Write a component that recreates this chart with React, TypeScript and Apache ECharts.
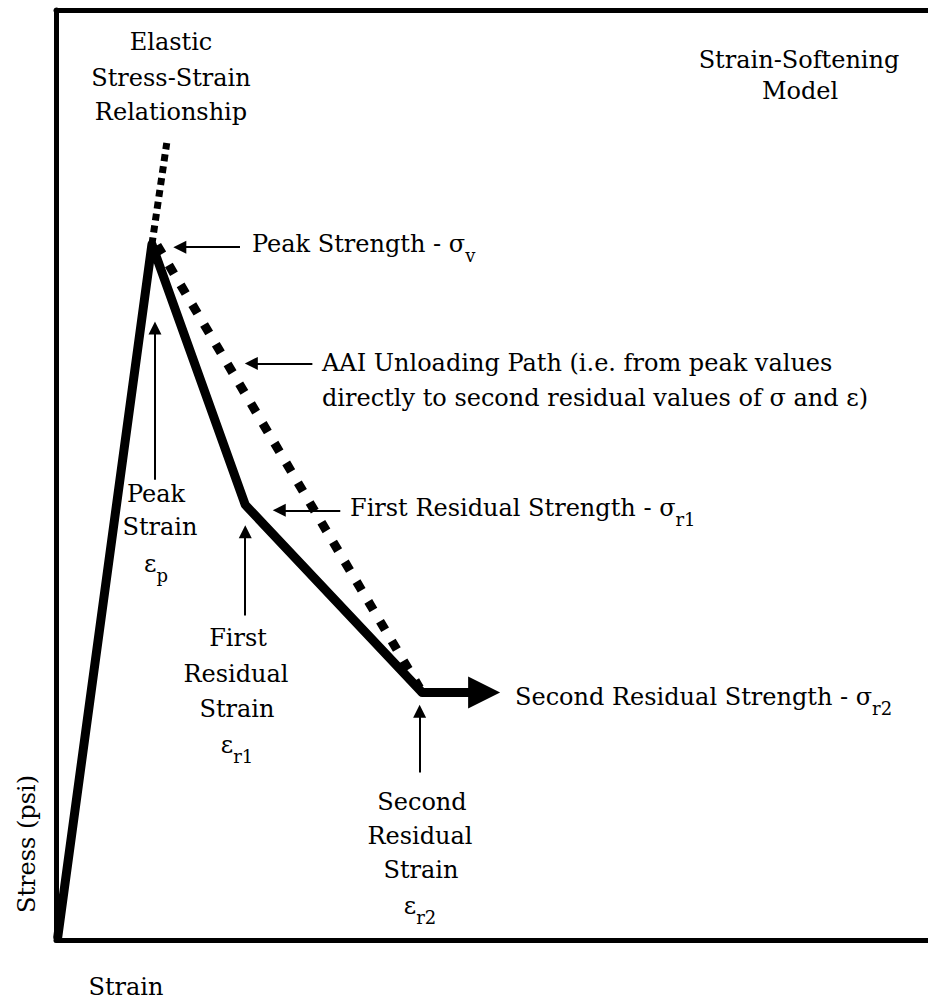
import React, { useEffect, useRef } from 'react';
import * as echarts from 'echarts';

// Strain-softening model polyline (strain %, stress %)
const modelStrain = [0.2, 11.0, 21.7, 42.0];
const modelStress = [0.3, 74.8, 46.8, 26.6];
// Elastic extension beyond peak (dotted)
const elasticStrain = [11.0, 12.7];
const elasticStress = [74.8, 85.7];
// AAI unloading path (dotted)
const aaiStrain = [11.6, 41.7];
const aaiStress = [74.7, 27.1];
// Second residual strength thick arrow
const residualArrowStrain = [42.0, 49.1];
const residualArrowStress = [26.6, 26.6];
// Annotation pointer arrows (from -> to)
const pointerFromStrain = [21.1, 11.35, 29.4, 32.6, 21.7, 41.7];
const pointerFromStress = [74.5, 49.5, 62.0, 46.2, 34.9, 18.0];
const pointerToStrain = [14.2, 11.35, 22.4, 25.6, 21.7, 41.7];
const pointerToStress = [74.5, 65.8, 62.0, 46.2, 43.9, 24.6];

const FONT = '"DejaVu Serif", serif';

const txt = (text: string, x: number, y: number, align = 'center', rotation = 0) => ({
  type: 'text',
  x,
  y,
  rotation,
  silent: true,
  style: {
    text,
    fontSize: 24,
    fontFamily: FONT,
    fill: '#000',
    textAlign: align,
    textVerticalAlign: 'middle',
  },
});

const subTxt = (main: string, s: string, x: number, y: number, align = 'left') => ({
  type: 'text',
  x,
  y,
  silent: true,
  style: {
    text: `{m|${main}}{s|${s}}`,
    rich: {
      m: { fontSize: 24, fontFamily: FONT, fill: '#000' },
      s: { fontSize: 18, fontFamily: FONT, fill: '#000', verticalAlign: 'bottom', lineHeight: 40 },
    },
    textAlign: align,
    textVerticalAlign: 'middle',
  },
});

export default function App() {
  const ref = useRef<HTMLDivElement>(null);
  useEffect(() => {
    if (!ref.current) return;
    const chart = echarts.init(ref.current, undefined, { renderer: 'svg' });
    const axisCommon = {
      type: 'value',
      min: 0,
      max: 100,
      axisLine: { show: true, lineStyle: { color: '#000', width: 5 } },
      axisTick: { show: false },
      axisLabel: { show: false },
      splitLine: { show: false },
    };
    const pointers = pointerFromStrain.map((_, i) => ({
      coords: [
        [pointerFromStrain[i], pointerFromStress[i]],
        [pointerToStrain[i], pointerToStress[i]],
      ],
    }));
    chart.setOption({
      animation: false,
      backgroundColor: '#fff',
      grid: { left: 56, right: 0, top: 10, bottom: 62 },
      xAxis: [
        { ...axisCommon, position: 'bottom' },
        { ...axisCommon, position: 'top' },
      ],
      yAxis: [{ ...axisCommon, position: 'left' }],
      series: [
        {
          type: 'line',
          data: elasticStrain.map((v, i) => [v, elasticStress[i]]),
          showSymbol: false,
          clip: false,
          lineStyle: { color: '#000', width: 7, type: [7, 5] },
          z: 2,
        },
        {
          type: 'line',
          data: aaiStrain.map((v, i) => [v, aaiStress[i]]),
          showSymbol: false,
          clip: false,
          lineStyle: { color: '#000', width: 9, type: [10, 13] },
          z: 2,
        },
        {
          type: 'line',
          data: modelStrain.map((v, i) => [v, modelStress[i]]),
          showSymbol: false,
          clip: false,
          lineStyle: { color: '#000', width: 9, join: 'round', cap: 'round' },
          z: 3,
        },
        {
          type: 'lines',
          coordinateSystem: 'cartesian2d',
          symbol: ['none', 'triangle'],
          symbolSize: 32,
          lineStyle: { color: '#000', width: 9, opacity: 1 },
          data: [
            {
              coords: [
                [residualArrowStrain[0], residualArrowStress[0]],
                [residualArrowStrain[1], residualArrowStress[1]],
              ],
            },
          ],
          z: 3,
        },
        {
          type: 'lines',
          coordinateSystem: 'cartesian2d',
          symbol: ['none', 'triangle'],
          symbolSize: 13,
          lineStyle: { color: '#000', width: 2, opacity: 1 },
          data: pointers,
          z: 3,
        },
      ],
      graphic: [
        txt('Elastic', 171, 42),
        txt('Stress-Strain', 171, 78),
        txt('Relationship', 171, 112),
        txt('Strain-Softening', 799, 60),
        txt('Model', 800, 91),
        subTxt('Peak Strength - σ', 'v', 252, 244),
        txt('AAI Unloading Path (i.e. from peak values', 322, 363, 'left'),
        txt('directly to second residual values of σ and ε)', 322, 398, 'left'),
        subTxt('First Residual Strength - σ', 'r1', 350, 508),
        subTxt('Second Residual Strength - σ', 'r2', 515, 697),
        txt('Peak', 156, 494),
        txt('Strain', 160, 527),
        subTxt('ε', 'p', 156, 564, 'center'),
        txt('First', 238, 638),
        txt('Residual', 236, 674),
        txt('Strain', 237, 709),
        subTxt('ε', 'r1', 237, 745, 'center'),
        txt('Second', 422, 802),
        txt('Residual', 420, 836),
        txt('Strain', 421, 870),
        subTxt('ε', 'r2', 420, 906, 'center'),
        txt('Stress (psi)', 27, 844, 'center', Math.PI / 2),
        txt('Strain', 126, 987),
      ],
    });
    return () => chart.dispose();
  }, []);
  return <div ref={ref} style={{ width: 928, height: 1002, position: 'absolute', left: 0, top: 0 }} />;
}
